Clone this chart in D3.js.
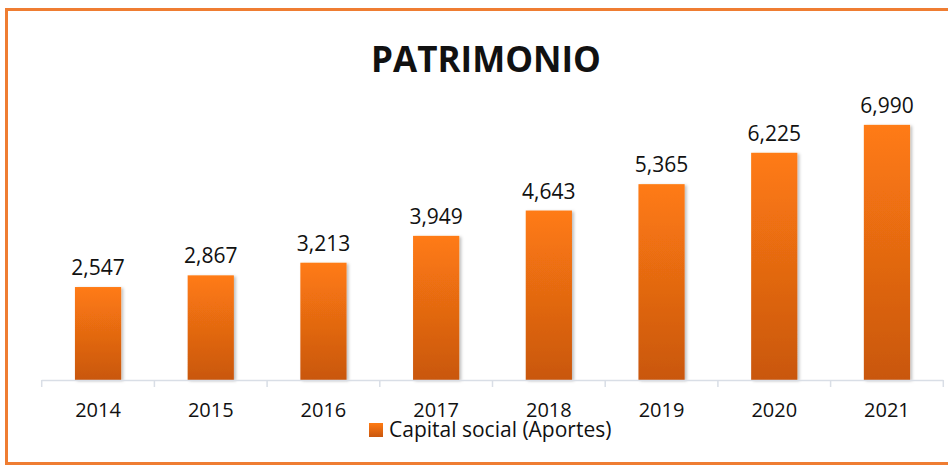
<!DOCTYPE html>
<html>
<head>
<meta charset="utf-8">
<script src="https://cdn.jsdelivr.net/npm/d3@7"></script>
<style>
  body { margin: 0; background: #fff; }
  svg { display: block; }
  text { font-family: "Open Sans", "Liberation Sans", sans-serif; fill: #111; }
</style>
</head>
<body>
<svg id="chart" width="948" height="466"></svg>
<script>
const years = ["2014", "2015", "2016", "2017", "2018", "2019", "2020", "2021"];
const capital = [2547, 2867, 3213, 3949, 4643, 5365, 6225, 6990];
const seriesName = "Capital social (Aportes)";

const width = 948;
const height = 466;
const svg = d3.select("#chart");

const defs = svg.append("defs");
const grad = defs.append("linearGradient")
  .attr("id", "barGrad")
  .attr("x1", 0).attr("y1", 0).attr("x2", 0).attr("y2", 1);
grad.append("stop").attr("offset", "0%").attr("stop-color", "#ff7b13");
grad.append("stop").attr("offset", "100%").attr("stop-color", "#c9570f");

const shadow = defs.append("filter").attr("id", "shadow")
  .attr("x", "-20%").attr("y", "-5%").attr("width", "150%").attr("height", "115%");
shadow.append("feDropShadow")
  .attr("dx", 2).attr("dy", 1).attr("stdDeviation", 1.5)
  .attr("flood-color", "#000").attr("flood-opacity", 0.25);

// frame
svg.append("rect")
  .attr("x", 6.5).attr("y", 9.5)
  .attr("width", 980).attr("height", 454)
  .attr("fill", "none")
  .attr("stroke", "#ef7d32")
  .attr("stroke-width", 3);

const x = d3.scaleBand()
  .domain(years)
  .range([41.7, 943.3])
  .paddingInner(0.59)
  .paddingOuter(0.295);

const y = d3.scaleLinear()
  .domain([0, 8000])
  .range([380, 88]);

// bars
svg.append("g").selectAll("rect")
  .data(years)
  .join("rect")
  .attr("x", d => x(d))
  .attr("width", x.bandwidth())
  .attr("y", (d, i) => y(capital[i]))
  .attr("height", (d, i) => y(0) - y(capital[i]))
  .attr("fill", "url(#barGrad)")
  .attr("filter", "url(#shadow)");

// value labels
svg.append("g").selectAll("text")
  .data(years)
  .join("text")
  .attr("x", d => x(d) + x.bandwidth() / 2)
  .attr("y", (d, i) => y(capital[i]) - 12)
  .attr("text-anchor", "middle")
  .attr("font-size", 21)
  .text((d, i) => d3.format(",")(capital[i]));

// axis
const step = x.step();
const axisG = svg.append("g");
axisG.append("line")
  .attr("x1", 41.7).attr("x2", 943.3)
  .attr("y1", 380.5).attr("y2", 380.5)
  .attr("stroke", "#d9dee6").attr("stroke-width", 1.5);
axisG.selectAll("line.tick")
  .data(d3.range(years.length + 1))
  .join("line")
  .attr("class", "tick")
  .attr("x1", i => 41.7 + i * step).attr("x2", i => 41.7 + i * step)
  .attr("y1", 380).attr("y2", 387)
  .attr("stroke", "#d9dee6").attr("stroke-width", 1.5);

svg.append("g").selectAll("text")
  .data(years)
  .join("text")
  .attr("x", d => x(d) + x.bandwidth() / 2)
  .attr("y", 417)
  .attr("text-anchor", "middle")
  .attr("font-size", 20)
  .text(d => d);

// title
svg.append("text")
  .attr("x", 486)
  .attr("y", 72)
  .attr("text-anchor", "middle")
  .attr("font-size", 35)
  .attr("font-weight", "bold")
  .text("PATRIMONIO");

// legend
const legend = svg.append("g");
legend.append("rect")
  .attr("x", 369).attr("y", 423)
  .attr("width", 14).attr("height", 14)
  .attr("fill", "url(#barGrad)");
legend.append("text")
  .attr("x", 389).attr("y", 437)
  .attr("font-size", 21)
  .text(seriesName);
</script>
</body>
</html>
